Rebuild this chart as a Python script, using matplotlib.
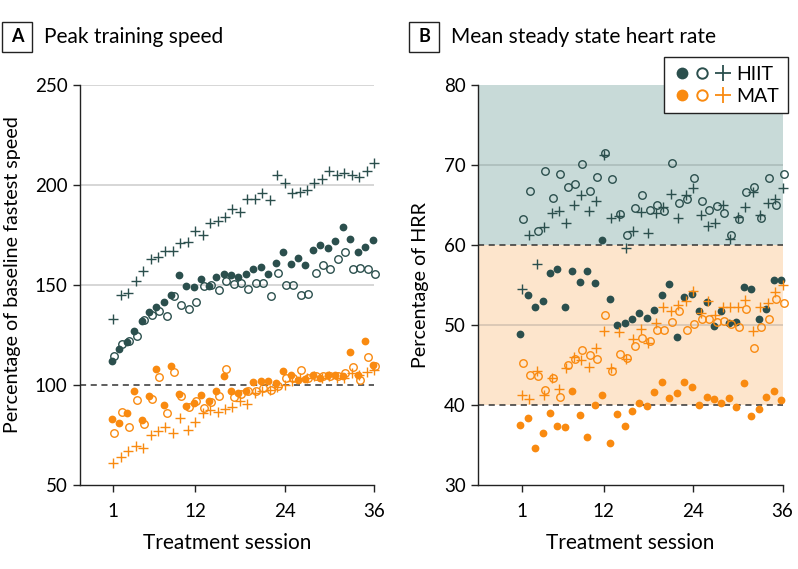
import numpy as np
import matplotlib
matplotlib.use("Agg")
import matplotlib.pyplot as plt
from matplotlib.lines import Line2D
from matplotlib.patches import Rectangle
from matplotlib.legend_handler import HandlerTuple

plt.rcParams['font.family'] = ['Lato', 'DejaVu Sans']

sessions = np.arange(1, 37)
x_ticks = [1, 12, 24, 36]

# Panel A: peak training speed (% of baseline fastest speed)
a_hiit_fill = [111.8, 118, 121.3, 127.2, 132.2, 136.6, 138.9, 141.4, 144.9, 154.9, 149.7, 149.1,
               153.1, 149.7, 154.1, 155.3, 154.9, 154.1, 155.3, 157.8, 159.1, 155.6, 161.1, 166.6,
               160.3, 163.3, 159.9, 167.3, 170, 168.3, 172, 179.2, 172.8, 166.6, 169.1, 172.5]
a_hiit_open = [114.7, 120.7, 122.2, 124.7, 132.7, 135.2, 136.9, 134.7, 144.4, 140.2, 138.1, 141.4,
               149.4, 149.9, 147.7, 152, 150.3, 150.8, 148.2, 151.1, 151.1, 144.7, 156.1, 149.9,
               149.9, 144.9, 145.7, 155.8, 159.8, 158.1, 162.8, 166.6, 158.1, 158.6, 157.8, 155.3]
a_hiit_plus = [133, 145, 146, 152, 157, 163, 164, 167, 167, 171, 171.5, 177,
               175, 181, 182, 184, 188, 186.5, 193, 193, 196, 192.5, 205, 201,
               196, 196.5, 197.5, 201, 203, 207, 205, 206, 205, 204, 207, 211]
a_mat_fill = [82.9, 81.2, 85.9, 96.8, 82.6, 94.6, 108, 90.1, 109.6, 95.6, 89.6, 91,
              95.1, 91.8, 96.8, 104.3, 96.8, 96, 96.8, 101.3, 101.8, 101.8, 101, 107.1,
              105.1, 102.6, 103.1, 105.1, 103.5, 105.1, 105.1, 104.6, 116.3, 105.1, 122.2, 109.8]
a_mat_open = [75.9, 86.7, 78.9, 92.3, 80.6, 93, 104, 86.2, 106.3, 94.6, 89.2, 91.8,
              88.4, 91.3, 94.3, 108.1, 94, 95.6, 96.8, 96.8, 98.5, 97.3, 99.3, 103.5,
              103.5, 107.3, 103.5, 104.6, 104.6, 104.3, 104.6, 106, 109, 102.6, 114, 109.3]
a_mat_plus = [61.2, 63.9, 67.2, 69.5, 68.4, 75.1, 77.2, 79.2, 76.2, 83.4, 77.6, 81.7,
              85.9, 87.6, 86.7, 87.9, 89.2, 91.8, 90.6, 96, 96.8, 97.6, 99, 100.1,
              101.8, 103.5, 103.5, 104.6, 103.5, 104.3, 103.5, 103.5, 106, 105.1, 106.3, 107.6]

# Panel B: mean steady state heart rate (% of HRR)
b_hiit_fill = [48.9, 53.7, 52.2, 53, 56.5, 57, 52.2, 56.8, 55.4, 56.8, 55.2, 60.6,
               53.3, 50, 50.3, 50.7, 51.5, 50.9, 51.9, 53.8, 55.1, 48.5, 53.5, 53.9,
               51.7, 52.9, 49.9, 51.7, 50.3, 50.4, 54.7, 54.5, 50.7, 52, 55.6, 55.6]
b_hiit_open = [63.2, 66.7, 61.7, 69.3, 65.9, 68.9, 67.3, 67.6, 70.1, 66.8, 68.5, 71.5,
               68.2, 63.9, 61.2, 64.6, 66.3, 64.4, 65, 64.3, 70.2, 65.3, 65.8, 68.4,
               65.5, 64.4, 64.9, 64, 61.2, 63.2, 66.6, 67.3, 63.4, 68.4, 65, 68.9]
b_hiit_plus = [54.5, 61.2, 57.6, 62.2, 64, 64.2, 62.7, 65, 66.2, 64.2, 65.5, 71.2,
               63.4, 63.6, 59.6, 61.8, 64.1, 61.5, 64, 64.8, 66.4, 63.4, 66.3, 67.1,
               63.7, 62.4, 62.7, 65, 60.7, 63.5, 64.8, 66.6, 63.8, 65.3, 65.7, 67.1]
b_mat_fill = [37.5, 38.4, 34.6, 36.5, 39, 37.4, 37.3, 41.8, 38.7, 36, 40, 41.3,
              35.2, 38.9, 37.4, 39.3, 40.2, 39.9, 41.6, 42.9, 40.9, 41.5, 42.9, 42.3,
              40, 41, 40.7, 40.3, 40.9, 39.7, 42.7, 38.6, 39.5, 41, 41.7, 40.6]
b_mat_open = [45.3, 43.8, 43.6, 41.9, 43.4, 41, 45, 45.7, 46.9, 46.2, 45.8, 51.2,
              44.2, 46.4, 45.9, 47.4, 48.4, 48, 49.4, 49.4, 50.4, 51.8, 49.4, 50.1,
              50.7, 50.7, 50.4, 50.5, 50.1, 49.8, 52, 47.1, 49.7, 50.7, 53.2, 52.8]
b_mat_plus = [41.3, 40.7, 44.3, 41.3, 43.4, 42, 44.6, 46, 45.6, 44.8, 47.1, 49.2,
              44.6, 49.1, 45.7, 48.2, 49.5, 47.7, 50.3, 52.3, 51.7, 52.5, 53, 54.2,
              51.5, 53, 51.2, 52.2, 52.2, 52.2, 53.1, 49.3, 52.2, 52.8, 54.1, 55]

dark = '#2b4f4d'
orange = '#f98a10'
teal_bg = '#c8dad8'
orange_bg = '#fde5cc'
grid_c = '#d3d3d3'

W, H = 798, 569
fig = plt.figure(figsize=(W / 100, H / 100), dpi=100)
axA = fig.add_axes([80 / W, 84 / H, 294 / W, 400 / H])
axB = fig.add_axes([478 / W, 84 / H, 304.5 / W, 400 / H])


def scatter_set(ax, fill, opn, plus, color):
    ax.plot(sessions - 0.2, fill, 'o', color=color, ms=5.6, mew=0, clip_on=False, zorder=3)
    ax.plot(sessions + 0.15, opn, 'o', mfc='none', mec=color, ms=5.4, mew=1.0, clip_on=False, zorder=4)
    ax.plot(sessions, plus, '+', color=color, ms=7.5, mew=1.0, clip_on=False, zorder=5)


# Panel A
for g in [150, 200, 250]:
    axA.axhline(g, color=grid_c, lw=1.3, zorder=1)
axA.axhline(100, color='#333333', lw=1.1, ls=(0, (4, 3)), zorder=2)
scatter_set(axA, a_hiit_fill, a_hiit_open, a_hiit_plus, dark)
scatter_set(axA, a_mat_fill, a_mat_open, a_mat_plus, orange)
axA.set_xlim(-3.47, 36)
axA.set_ylim(50, 250)
axA.set_yticks([50, 100, 150, 200, 250])
axA.set_ylabel('Percentage of baseline fastest speed', fontsize=14.2)
axA.yaxis.set_label_coords(-0.2, 0.527)

# Panel B
axB.axhspan(60, 80, color=teal_bg, lw=0, zorder=0)
axB.axhspan(40, 60, color=orange_bg, lw=0, zorder=0)
axB.axhline(70, color='#aebfbd', lw=1.3, zorder=1)
axB.axhline(50, color='#d9c7b4', lw=1.3, zorder=1)
for d in [60, 40]:
    axB.axhline(d, color='#333333', lw=1.1, ls=(0, (4, 3)), zorder=2)
scatter_set(axB, b_hiit_fill, b_hiit_open, b_hiit_plus, dark)
scatter_set(axB, b_mat_fill, b_mat_open, b_mat_plus, orange)
axB.set_xlim(-4.87, 36)
axB.set_ylim(30, 80)
axB.set_yticks([30, 40, 50, 60, 70, 80])
axB.set_ylabel('Percentage of HRR', fontsize=14.2)
axB.yaxis.set_label_coords(-0.16, 0.5)

for ax in (axA, axB):
    ax.set_xticks(x_ticks)
    ax.set_xlabel('Treatment session', fontsize=15, labelpad=9)
    for s in ('top', 'right'):
        ax.spines[s].set_visible(False)
    for s in ('left', 'bottom'):
        ax.spines[s].set_color('#222222')
        ax.spines[s].set_linewidth(1.0)
    ax.tick_params(direction='out', length=5, width=1, color='#222222', labelsize=13.5, pad=4)
    ax.tick_params(axis='x', pad=8)

# Panel titles with boxed letters
for x0, letter, title in [(2, 'A', 'Peak training speed'), (409, 'B', 'Mean steady state heart rate')]:
    fig.add_artist(Rectangle((x0 / W, 1 - 52 / H), 30 / W, 30 / H, transform=fig.transFigure,
                             fc='white', ec='#222222', lw=1.0))
    fig.text((x0 + 15) / W, 1 - 37 / H, letter, ha='center', va='center', fontsize=13, fontweight='bold')
    fig.text((x0 + 42) / W, 1 - 37 / H, title, ha='left', va='center', fontsize=15)

# Legend
h_hiit = (Line2D([], [], marker='o', ls='', color=dark, ms=8.5, mew=0),
          Line2D([], [], marker='o', ls='', mfc='none', mec=dark, ms=7.5, mew=1.4),
          Line2D([], [], marker='+', ls='', color=dark, ms=11, mew=1.3))
h_mat = (Line2D([], [], marker='o', ls='', color=orange, ms=8.5, mew=0),
         Line2D([], [], marker='o', ls='', mfc='none', mec=orange, ms=7.5, mew=1.4),
         Line2D([], [], marker='+', ls='', color=orange, ms=11, mew=1.3))
leg = fig.legend([h_hiit, h_mat], ['HIIT', 'MAT'],
                 handler_map={tuple: HandlerTuple(ndivide=None, pad=0.0)},
                 loc='upper right', bbox_to_anchor=(788 / W, 1 - 57 / H),
                 frameon=True, fancybox=False, edgecolor='#222222', fontsize=14,
                 handlelength=3.1, borderpad=0.45, labelspacing=0.25, handletextpad=0.2,
                 borderaxespad=0)
leg.get_frame().set_linewidth(1.0)
leg.get_frame().set_alpha(1)

fig.savefig('out.png', dpi=100)
